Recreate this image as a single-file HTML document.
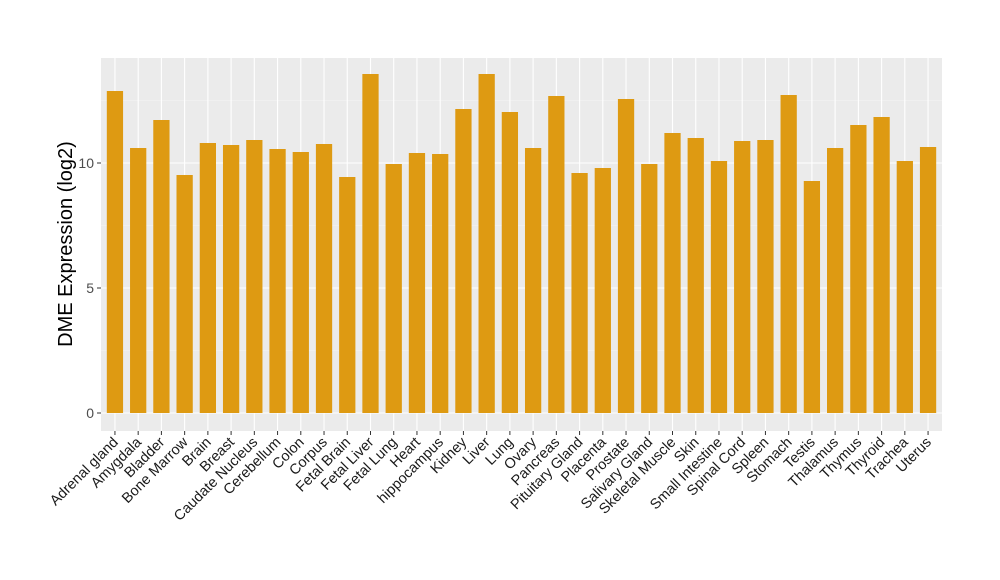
<!DOCTYPE html>
<html><head><meta charset="utf-8"><style>
html,body{margin:0;padding:0;background:#fff;}
svg{display:block;font-family:"Liberation Sans",Arial,sans-serif;}
</style></head><body>
<svg id="c" width="1000" height="580" viewBox="0 0 1000 580" xmlns="http://www.w3.org/2000/svg"></svg>
<script>
(function(){
var names=["Adrenal gland","Amygdala","Bladder","Bone Marrow","Brain","Breast","Caudate Nucleus","Cerebellum","Colon","Corpus","Fetal Brain","Fetal Liver","Fetal Lung","Heart","hippocampus","Kidney","Liver","Lung","Ovary","Pancreas","Pituitary Gland","Placenta","Prostate","Salivary Gland","Skeletal Muscle","Skin","Small Intestine","Spinal Cord","Spleen","Stomach","Testis","Thalamus","Thymus","Thyroid","Trachea","Uterus"];
var vals=[12.88,10.6,11.72,9.52,10.8,10.72,10.92,10.56,10.44,10.76,9.44,13.56,9.96,10.4,10.36,12.16,13.56,12.04,10.6,12.68,9.6,9.8,12.56,9.96,11.2,11,10.08,10.88,10.92,12.72,9.28,10.6,11.52,11.84,10.08,10.64];
var L=101,R=942,T=58,B=431,y0=413,s=25;
var n=names.length,step=(R-L)/(n-1+1.2),bw=step*0.7;
var h='<rect x="'+L+'" y="'+T+'" width="'+(R-L)+'" height="'+(B-T)+'" fill="#EBEBEB"/>';
[2.5,7.5,12.5].forEach(function(v){h+='<line x1="'+L+'" x2="'+R+'" y1="'+(y0-v*s)+'" y2="'+(y0-v*s)+'" stroke="#F5F5F5" stroke-width="0.6"/>';});
[0,5,10].forEach(function(v){var y=y0-v*s;h+='<line x1="'+L+'" x2="'+R+'" y1="'+y+'" y2="'+y+'" stroke="#fff" stroke-width="1.1"/>';
h+='<line x1="'+(L-4)+'" x2="'+L+'" y1="'+y+'" y2="'+y+'" stroke="#333" stroke-width="1"/>';
h+='<text x="'+(L-7)+'" y="'+(y+5)+'" text-anchor="end" font-size="14" fill="#4D4D4D">'+v+'</text>';});
for(var i=0;i<n;i++){var cx=L+step*(0.6+i);
h+='<line x1="'+cx+'" x2="'+cx+'" y1="'+T+'" y2="'+B+'" stroke="#fff" stroke-width="1.1"/>';}
for(var i=0;i<n;i++){var cx=L+step*(0.6+i),yt=y0-vals[i]*s;
h+='<rect x="'+(cx-bw/2)+'" y="'+yt+'" width="'+bw+'" height="'+(y0-yt)+'" fill="#DE9A12"/>';
h+='<line x1="'+cx+'" x2="'+cx+'" y1="'+B+'" y2="'+(B+4)+'" stroke="#333" stroke-width="1"/>';
h+='<text transform="translate('+(cx+4)+','+(B+12)+') rotate(-45)" text-anchor="end" font-size="14.5" fill="#1a1a1a">'+names[i]+'</text>';}
h+='<text transform="translate(72,244) rotate(-90)" text-anchor="middle" font-size="20" fill="#000">DME Expression (log2)</text>';
document.getElementById('c').innerHTML=h;
})();
</script>
</body></html>
